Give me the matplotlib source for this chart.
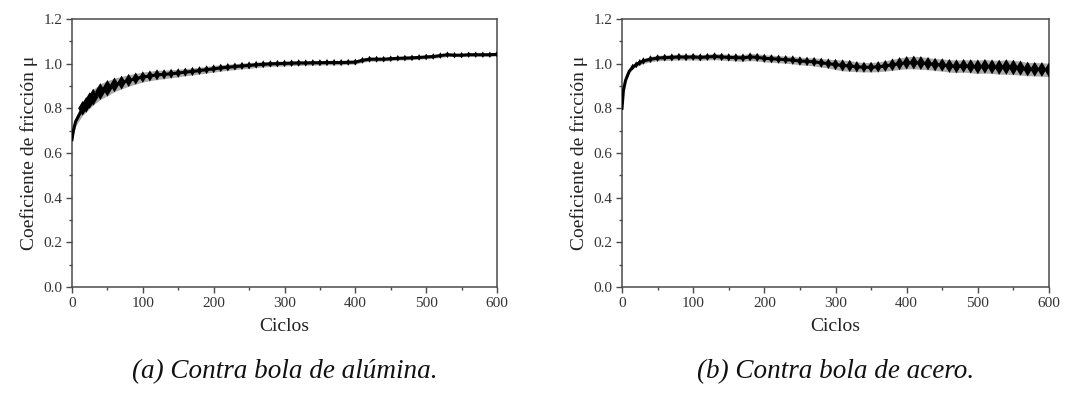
import matplotlib
matplotlib.use("Agg")
import matplotlib.pyplot as plt
from matplotlib.ticker import MultipleLocator, FormatStrFormatter
import numpy as np

plt.rcParams['font.family'] = ['Liberation Serif', 'DejaVu Serif']

# ---- data ----
ciclos = [0, 2, 5, 10, 15, 20, 25, 30, 40, 50, 60, 70, 80, 90, 100,
          110, 120, 130, 140, 150, 160, 170, 180, 190, 200, 210, 220, 230, 240, 250,
          260, 270, 280, 290, 300, 310, 320, 330, 340, 350, 360, 370, 380, 390, 400,
          410, 420, 430, 440, 450, 460, 470, 480, 490, 500, 510, 520, 530, 540, 550,
          560, 570, 580, 590, 600]

mu_alumina = [0.66, 0.70, 0.74, 0.77, 0.80, 0.815, 0.835, 0.85, 0.875, 0.89, 0.905, 0.915, 0.925, 0.933, 0.94,
              0.945, 0.95, 0.952, 0.955, 0.958, 0.962, 0.965, 0.969, 0.973, 0.977, 0.981, 0.984, 0.987, 0.99, 0.992,
              0.995, 0.997, 0.999, 1.0, 1.001, 1.002, 1.003, 1.003, 1.004, 1.004, 1.005, 1.005, 1.005, 1.006, 1.007,
              1.015, 1.02, 1.02, 1.02, 1.022, 1.024, 1.025, 1.026, 1.028, 1.03, 1.032, 1.036, 1.04, 1.038, 1.038,
              1.04, 1.04, 1.04, 1.04, 1.042]
band_alumina = [0.01, 0.015, 0.02, 0.025, 0.03, 0.032, 0.034, 0.035, 0.035, 0.034, 0.03, 0.028, 0.026, 0.024, 0.022,
                0.021, 0.021, 0.019, 0.018, 0.017, 0.016, 0.016, 0.015, 0.015, 0.015, 0.014, 0.014, 0.013, 0.013, 0.013,
                0.012, 0.012, 0.011, 0.011, 0.011, 0.011, 0.011, 0.01, 0.01, 0.01, 0.01, 0.01, 0.01, 0.009, 0.009,
                0.009, 0.009, 0.009, 0.008, 0.008, 0.008, 0.008, 0.008, 0.008, 0.008, 0.008, 0.008, 0.008, 0.007, 0.007,
                0.007, 0.007, 0.007, 0.007, 0.007]

mu_acero = [0.80, 0.88, 0.925, 0.965, 0.985, 0.995, 1.005, 1.012, 1.02, 1.025, 1.027, 1.028, 1.03, 1.029, 1.03,
            1.028, 1.03, 1.032, 1.03, 1.028, 1.027, 1.026, 1.03, 1.028, 1.024, 1.022, 1.02, 1.018, 1.016, 1.012,
            1.01, 1.008, 1.004, 1.0, 0.996, 0.992, 0.99, 0.986, 0.984, 0.984, 0.986, 0.99, 0.995, 1.0, 1.004,
            1.005, 1.003, 1.0, 0.996, 0.994, 0.99, 0.988, 0.99, 0.988, 0.986, 0.988, 0.986, 0.984, 0.985, 0.983,
            0.98, 0.976, 0.975, 0.974, 0.972]
band_acero = [0.004, 0.005, 0.006, 0.007, 0.008, 0.009, 0.01, 0.011, 0.012, 0.012, 0.012, 0.013, 0.013, 0.013, 0.013,
              0.013, 0.013, 0.014, 0.014, 0.014, 0.015, 0.015, 0.016, 0.016, 0.016, 0.016, 0.016, 0.016, 0.017, 0.017,
              0.017, 0.018, 0.019, 0.02, 0.022, 0.024, 0.024, 0.022, 0.021, 0.021, 0.022, 0.023, 0.025, 0.026, 0.027,
              0.028, 0.028, 0.027, 0.027, 0.027, 0.028, 0.028, 0.028, 0.029, 0.03, 0.03, 0.03, 0.031, 0.032, 0.032,
              0.031, 0.03, 0.03, 0.03, 0.03]

yticks = [0.0, 0.2, 0.4, 0.6, 0.8, 1.0, 1.2]
xticks = [0, 100, 200, 300, 400, 500, 600]
captions = ["(a) Contra bola de alúmina.", "(b) Contra bola de acero."]
xlabel = "Ciclos"
ylabel = "Coeficiente de fricción μ"

W, H = 1068, 412
fig = plt.figure(figsize=(W / 100, H / 100), dpi=100)

axes_px = [(72, 19, 497, 287), (622, 19, 1049, 287)]
series = [(mu_alumina, band_alumina), (mu_acero, band_acero)]
spine_c = '#4a4a4a'
tall_diamond = [(0, 1), (0.6, 0), (0, -1), (-0.6, 0), (0, 1)]

for (x0, y0, x1, y1), (mu, band), cap in zip(axes_px, series, captions):
    ax = fig.add_axes([x0 / W, 1 - y1 / H, (x1 - x0) / W, (y1 - y0) / H])
    x = np.array(ciclos)
    m = np.array(mu)
    b = np.array(band)
    ax.fill_between(x, m - b, m + b, color='#a0a0a0', alpha=0.9, lw=0, zorder=2)
    ax.plot(x, m, color='black', lw=2.2, zorder=3)
    sel = x >= 15
    ax.scatter(x[sel], m[sel], marker=tall_diamond, s=(b[sel] * 330) ** 2 + 16,
               color='black', lw=0, zorder=4)

    ax.set_xlim(0, 600)
    ax.set_ylim(0, 1.2)
    ax.set_xticks(xticks)
    ax.set_yticks(yticks)
    ax.xaxis.set_minor_locator(MultipleLocator(50))
    ax.yaxis.set_minor_locator(MultipleLocator(0.1))
    ax.yaxis.set_major_formatter(FormatStrFormatter('%.1f'))
    ax.tick_params(which='major', direction='out', length=4, width=1, color=spine_c,
                   labelsize=11, labelcolor='#333333', pad=3)
    ax.tick_params(which='minor', direction='out', length=2, width=1, color=spine_c)
    for s in ax.spines.values():
        s.set_color(spine_c)
        s.set_linewidth(1.1)
    ax.set_xlabel(xlabel, fontsize=14, color='#222222', labelpad=6)
    ax.set_ylabel(ylabel, fontsize=14, color='#222222', labelpad=4)

    cx = (x0 + x1) / 2 / W
    fig.text(cx, 1 - 372 / H, cap, fontsize=19.5, style='italic', color='#111111',
             ha='center', va='center')

fig.savefig("out.png", dpi=100)
